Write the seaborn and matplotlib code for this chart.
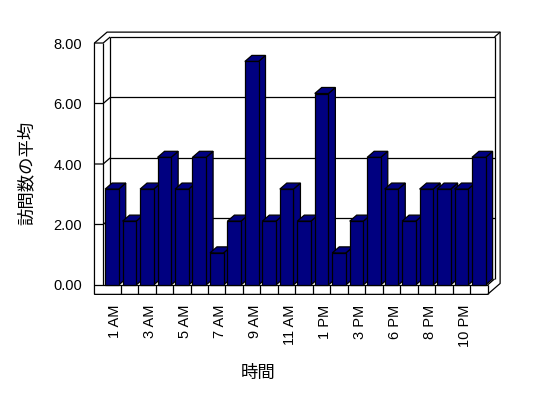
import matplotlib
matplotlib.use("Agg")
import matplotlib.pyplot as plt
import matplotlib.transforms as mtransforms
from matplotlib.patches import Polygon
import numpy as np
import pandas as pd
import seaborn as sns

# data
hours = ["1 AM", "2 AM", "3 AM", "4 AM", "5 AM", "6 AM", "7 AM", "8 AM",
         "9 AM", "10 AM", "11 AM", "12 PM", "1 PM", "2 PM", "3 PM", "4 PM",
         "6 PM", "7 PM", "8 PM", "9 PM", "10 PM", "11 PM"]
visits = [3.17, 2.11, 3.17, 4.22, 3.17, 4.22, 1.06, 2.11, 7.39, 2.11, 3.17,
          2.11, 6.33, 1.06, 2.11, 4.22, 3.17, 2.11, 3.17, 3.17, 3.17, 4.22]
yticks = [0, 2, 4, 6, 8]
ytick_labels = ["0.00", "2.00", "4.00", "6.00", "8.00"]

sns.set_theme(style="white")
plt.rcParams["font.family"] = ["Liberation Sans", "Noto Sans CJK JP", "DejaVu Sans"]

W, H = 548, 398
fig = plt.figure(figsize=(W / 100, H / 100), dpi=100)
fig.patch.set_facecolor("white")
ax = fig.add_axes([94 / W, (H - 295) / H, (501 - 94) / W, (295 - 33) / H])
ax.set_facecolor("none")

df = pd.DataFrame({"hour": hours, "visits": visits})
sns.barplot(data=df, x="hour", y="visits", color="#000080", saturation=1,
            width=0.78, edgecolor="black", linewidth=0.9, ax=ax)

n = len(hours)
top = yticks[-1]
dx, dy = 0.4, 0.2      # depth of bars / floor
wall = 0.5             # left wall thickness
slab = 0.31            # floor slab thickness
ox, oy = 0.72, 0.36    # outer box depth
xl, xr = -0.5, n - 0.5


def seg(xs, ys, z=1):
    ax.plot(xs, ys, color="black", lw=0.9, zorder=z, clip_on=False,
            solid_capstyle="butt")


# back wall grid + inner frame
for v in yticks[1:-1]:
    seg([xl + dx, xr + dx], [v + dy, v + dy])
    seg([xl - wall, xl, xl + dx], [v, v, v + dy], z=2)
seg([xl + dx, xl + dx], [dy, top + dy])
seg([xl + dx, xr + dx], [top + dy, top + dy])
seg([xr + dx, xr + dx], [dy, top + dy])

# left wall
seg([xl, xl], [0, top], z=2)
seg([xl - wall, xl, xl + dx], [top, top, top + dy], z=2)

# floor slab
seg([xl - wall, xr], [0, 0], z=2)
seg([xr, xr + dx], [0, dy], z=2)
seg([xr, xr], [-slab, 0], z=2)
for b in np.arange(xl + 1, xr, 1):
    seg([b, b], [-slab, 0], z=2)

# outer outline
seg([xl - wall, xl - wall, xl - wall + ox, xr + ox, xr + ox, xr, xl - wall],
    [-slab, top, top + oy, top + oy, -slab + oy, -slab, -slab], z=2)
seg([xr + dx, xr + ox], [top + dy, top + oy], z=2)

# 3d sides and tops of bars, painted left to right
for i, p in enumerate(ax.patches):
    x0, w, h = p.get_x(), p.get_width(), p.get_height()
    x1 = x0 + w
    z = 3 + i * 0.01
    side = Polygon([(x1, 0), (x1 + dx, dy), (x1 + dx, h + dy), (x1, h)],
                   closed=True, facecolor="#000080", edgecolor="black",
                   lw=0.9, zorder=z)
    cap = Polygon([(x0, h), (x1, h), (x1 + dx, h + dy), (x0 + dx, h + dy)],
                  closed=True, facecolor="#000080", edgecolor="black",
                  lw=0.9, zorder=z)
    ax.add_patch(side)
    ax.add_patch(cap)
    p.set_zorder(z + 0.005)

ax.set_xlim(-1.027, 22.27)
ax.set_ylim(-0.331, 8.331)

ax.set_yticks(yticks, ytick_labels)
ax.set_xticks(range(0, n, 2), hours[::2], rotation=90)
ax.tick_params(axis="y", length=0, pad=8.6, labelsize=10.5, colors="black")
ax.tick_params(axis="x", length=0, pad=7, labelsize=10.5, colors="black")
shift = mtransforms.ScaledTranslation(3.5 / 100, 0, fig.dpi_scale_trans)
for lbl in ax.get_xticklabels():
    lbl.set_transform(lbl.get_transform() + shift)

for s in ax.spines.values():
    s.set_visible(False)
ax.grid(False)

ax.set_xlabel("時間", fontsize=12.5, color="black")
ax.set_ylabel("訪問数の平均", fontsize=12.5, color="black")
ax.xaxis.set_label_coords(0.403, -0.267)
ax.yaxis.set_label_coords(-0.145, 0.466)

fig.savefig("out.png", dpi=100)
